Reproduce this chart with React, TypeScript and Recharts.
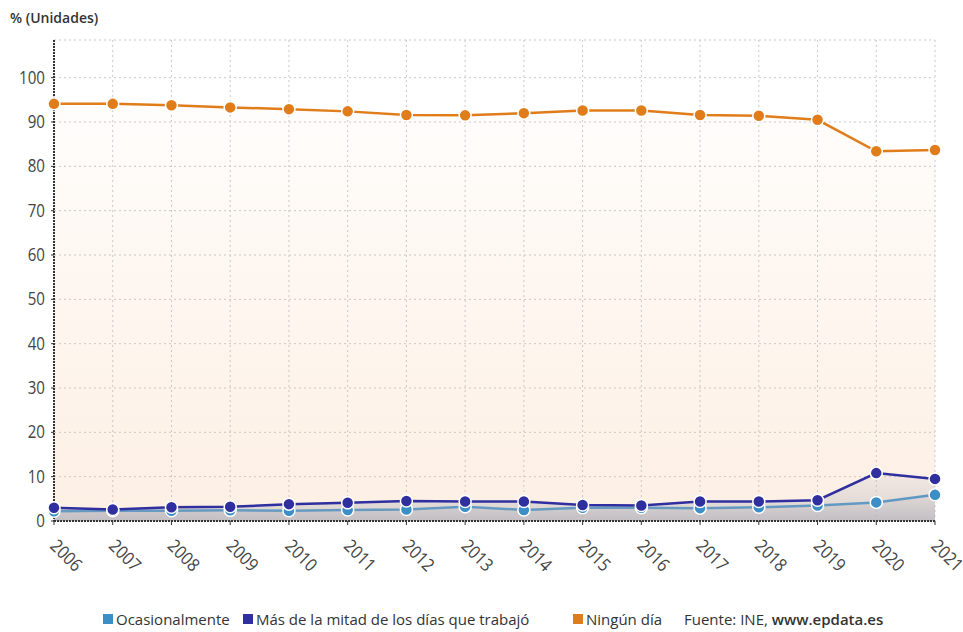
import { Area, AreaChart, CartesianGrid, XAxis, YAxis } from "recharts";

const YEARS = ["2006", "2007", "2008", "2009", "2010", "2011", "2012", "2013", "2014", "2015", "2016", "2017", "2018", "2019", "2020", "2021"];
const OCASIONALMENTE = [2.2, 2.3, 2.3, 2.4, 2.3, 2.5, 2.6, 3.2, 2.5, 3.0, 3.0, 2.9, 3.1, 3.5, 4.2, 5.9];
const MAS_DE_LA_MITAD = [3.0, 2.6, 3.1, 3.2, 3.8, 4.1, 4.5, 4.4, 4.4, 3.6, 3.5, 4.4, 4.4, 4.7, 10.8, 9.5];
const NINGUN_DIA = [94.1, 94.1, 93.8, 93.3, 92.9, 92.4, 91.6, 91.5, 92.0, 92.6, 92.6, 91.6, 91.4, 90.5, 83.4, 83.7];
const Y_TICKS = [0, 10, 20, 30, 40, 50, 60, 70, 80, 90, 100];

const COLORS = {
  ocasional: "#3b8ec6",
  mitad: "#2f2f9f",
  ninguno: "#e07d1a",
};

const SERIES = [
  { key: "ocasional", label: "Ocasionalmente", left: 103 },
  { key: "mitad", label: "Más de la mitad de los días que trabajó", left: 243 },
  { key: "ninguno", label: "Ningún día", left: 573 },
] as const;

const data = YEARS.map((year, i) => ({
  year,
  ocasional: OCASIONALMENTE[i],
  mitad: MAS_DE_LA_MITAD[i],
  ninguno: NINGUN_DIA[i],
}));

const FONT = "'Open Sans', sans-serif";

// the source uses a condensed face, so squeeze Open Sans a little
function YearTick({ x, y, payload }: any) {
  const tx = x - 5;
  const ty = y + 20;
  return (
    <text
      transform={`translate(${tx} ${ty}) rotate(45) scale(0.88 1)`}
      textAnchor="start"
      fontSize={18}
      fill="#444"
      fontFamily={FONT}
    >
      {payload.value}
    </text>
  );
}

function ValueTick({ x, y, payload }: any) {
  return (
    <text
      transform={`translate(${x} ${y + 6}) scale(0.84 1)`}
      textAnchor="end"
      fontSize={18}
      fill="#444"
      fontFamily={FONT}
    >
      {payload.value}
    </text>
  );
}

function LegendRow() {
  const text = { position: "absolute" as const, top: 609, fontFamily: FONT, fontSize: 15, color: "#333", whiteSpace: "nowrap" as const };
  return (
    <>
      {SERIES.map((s) => (
        <div key={s.key}>
          <span style={{ position: "absolute", left: s.left, top: 614, width: 10, height: 10, background: COLORS[s.key] }} />
          <span style={{ ...text, left: s.left + 13 }}>{s.label}</span>
        </div>
      ))}
      <span style={{ ...text, left: 684 }}>
        Fuente: INE, <b style={{ fontWeight: 600 }}>www.epdata.es</b>
      </span>
    </>
  );
}

const dotFor = (color: string) => ({
  r: 6,
  fill: color,
  fillOpacity: 1,
  stroke: "#fff",
  strokeWidth: 1.5,
  strokeOpacity: 1,
});

export default function App() {
  return (
    <div style={{ position: "absolute", left: 0, top: 0, width: 963, height: 632, background: "#fff", overflow: "hidden" }}>
      <div
        style={{
          position: "absolute",
          left: 10,
          top: 8,
          fontFamily: FONT,
          fontSize: 14,
          fontWeight: 600,
          color: "#333",
        }}
      >
        % (Unidades)
      </div>
      <AreaChart width={963} height={632} data={data} margin={{ top: 40, right: 28, left: 0, bottom: 31 }}>
        <defs>
          <linearGradient id="gNinguno" x1="0" y1="0" x2="0" y2="1">
            <stop offset="0%" stopColor="#f6a860" stopOpacity={0.02} />
            <stop offset="100%" stopColor="#f3b27a" stopOpacity={0.2} />
          </linearGradient>
          <linearGradient id="gGris" x1="0" y1="0" x2="0" y2="1">
            <stop offset="0%" stopColor="#b9b9c4" stopOpacity={0.15} />
            <stop offset="100%" stopColor="#a9a9b4" stopOpacity={0.45} />
          </linearGradient>
        </defs>
        <CartesianGrid stroke="#c9c9cf" strokeDasharray="2 3" />
        <XAxis
          dataKey="year"
          tick={<YearTick />}
          tickSize={4}
          tickLine={{ stroke: "#333" }}
          axisLine={{ stroke: "#333", strokeWidth: 2, strokeDasharray: "2 1" }}
          interval={0}
          height={80}
        />
        <YAxis
          domain={[0, 108.5]}
          ticks={Y_TICKS}
          width={54}
          tickSize={3}
          tickMargin={6}
          tickLine={{ stroke: "#333" }}
          axisLine={{ stroke: "#333", strokeWidth: 2, strokeDasharray: "2 1" }}
          tick={<ValueTick />}
          interval={0}
        />
        <Area
          type="linear"
          dataKey="ninguno"
          stroke={COLORS.ninguno}
          strokeWidth={2.5}
          fill="url(#gNinguno)"
          fillOpacity={1}
          dot={dotFor(COLORS.ninguno)}
          activeDot={false}
          isAnimationActive={false}
        />
        <Area
          type="linear"
          dataKey="ocasional"
          stroke={COLORS.ocasional}
          strokeWidth={2.5}
          fill="url(#gGris)"
          fillOpacity={1}
          dot={dotFor(COLORS.ocasional)}
          activeDot={false}
          isAnimationActive={false}
        />
        <Area
          type="linear"
          dataKey="mitad"
          stroke={COLORS.mitad}
          strokeWidth={2.5}
          fill="url(#gGris)"
          fillOpacity={1}
          dot={dotFor(COLORS.mitad)}
          activeDot={false}
          isAnimationActive={false}
        />
      </AreaChart>
      <LegendRow />
    </div>
  );
}
